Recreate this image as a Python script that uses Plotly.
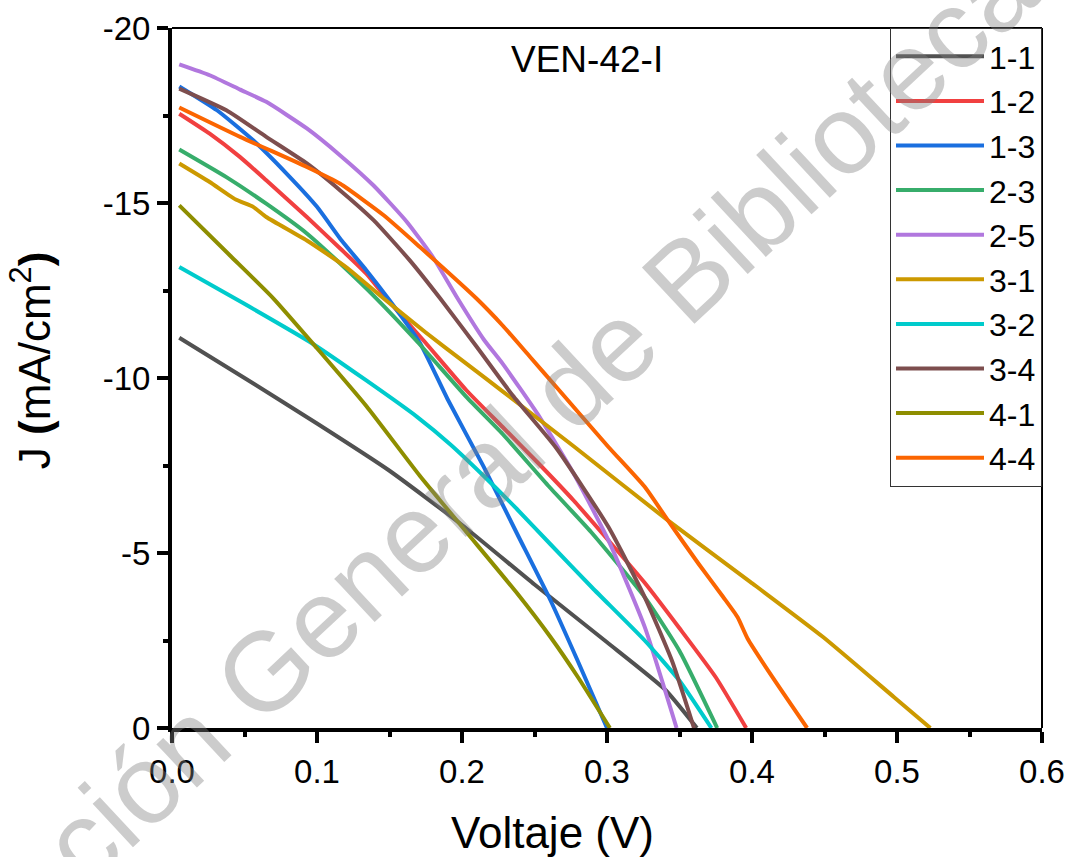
import plotly.graph_objects as go

# ---------------- data ----------------
names = ["1-1", "1-2", "1-3", "2-3", "2-5", "3-1", "3-2", "3-4", "4-1", "4-4"]
colors = ["#515151", "#F14040", "#1A6FDF", "#37AD6B", "#B177DE",
          "#CC9900", "#00CBCC", "#7D4E4E", "#8E8E00", "#FB6501"]

v_11 = [0.005, 0.05, 0.10, 0.15, 0.20, 0.25, 0.30, 0.34, 0.362]
j_11 = [-11.15, -10.0, -8.7, -7.35, -5.8, -4.1, -2.45, -1.1, 0]

v_12 = [0.005, 0.026, 0.047, 0.065, 0.093, 0.116, 0.134, 0.148, 0.175, 0.203,
        0.228, 0.253, 0.277, 0.301, 0.326, 0.350, 0.375, 0.396]
j_12 = [-17.55, -16.98, -16.31, -15.65, -14.6, -13.70, -12.98, -12.27, -11.0, -9.65,
        -8.6, -7.55, -6.5, -5.36, -4.15, -2.85, -1.45, 0]

v_13 = [0.005, 0.031, 0.056, 0.079, 0.10, 0.116, 0.134, 0.15, 0.171, 0.19,
        0.215, 0.238, 0.261, 0.28, 0.30]
j_13 = [-18.33, -17.65, -16.79, -15.84, -14.89, -13.98, -13.08, -12.22, -11.0, -9.4,
        -7.46, -5.55, -3.65, -1.9, 0]

v_23 = [0.005, 0.0375, 0.065, 0.093, 0.116, 0.141, 0.17, 0.203, 0.228, 0.26,
        0.289, 0.326, 0.35, 0.376]
j_23 = [-16.53, -15.74, -14.98, -14.13, -13.27, -12.27, -11.0, -9.46, -8.4, -6.9,
        -5.6, -3.74, -2.2, 0]

v_25 = [0.005, 0.026, 0.047, 0.065, 0.093, 0.116, 0.139, 0.162, 0.18, 0.197,
        0.215, 0.228, 0.252, 0.277, 0.301, 0.326, 0.348]
j_25 = [-18.96, -18.65, -18.24, -17.89, -17.13, -16.36, -15.50, -14.46, -13.45, -12.27,
        -11.1, -10.41, -8.98, -7.27, -5.36, -2.89, 0]

v_31 = [0.005, 0.026, 0.044, 0.056, 0.065, 0.093, 0.12, 0.146, 0.175, 0.203,
        0.228, 0.277, 0.342, 0.399, 0.449, 0.498, 0.523]
j_31 = [-16.13, -15.6, -15.1, -14.89, -14.6, -13.93, -13.17, -12.27, -11.3, -10.41,
        -9.62, -8.05, -5.93, -4.17, -2.6, -0.88, 0]

v_32 = [0.005, 0.049, 0.097, 0.134, 0.169, 0.192, 0.215, 0.238, 0.261,
        0.29, 0.326, 0.35, 0.372]
j_32 = [-13.17, -12.14, -10.98, -9.93, -8.89, -8.1, -7.2, -6.25, -5.25,
        -4.0, -2.5, -1.35, 0]

v_34 = [0.005, 0.0375, 0.065, 0.093, 0.116, 0.139, 0.164, 0.185, 0.21, 0.235,
        0.265, 0.301, 0.326, 0.345, 0.36]
j_34 = [-18.27, -17.65, -16.89, -16.13, -15.36, -14.51, -13.36, -12.27, -10.9, -9.5,
        -8.0, -5.74, -3.74, -1.9, 0]

v_41 = [0.005, 0.04, 0.07, 0.10, 0.134, 0.171, 0.203, 0.238, 0.261, 0.28, 0.302]
j_41 = [-14.93, -13.5, -12.27, -10.85, -9.2, -7.2, -5.6, -3.85, -2.6, -1.45, 0]

v_44 = [0.005, 0.047, 0.093, 0.116, 0.146, 0.171, 0.21, 0.228, 0.247, 0.267,
        0.301, 0.326, 0.342, 0.363, 0.38, 0.39, 0.397, 0.414, 0.438]
j_44 = [-17.73, -16.89, -16.03, -15.55, -14.65, -13.74, -12.27, -11.5, -10.6, -9.65,
        -8.03, -6.89, -5.93, -4.70, -3.75, -3.17, -2.55, -1.46, 0]

volts = [v_11, v_12, v_13, v_23, v_25, v_31, v_32, v_34, v_41, v_44]
currents = [j_11, j_12, j_13, j_23, j_25, j_31, j_32, j_34, j_41, j_44]

x_ticks = [0.0, 0.1, 0.2, 0.3, 0.4, 0.5, 0.6]
x_labels = ["0.0", "0.1", "0.2", "0.3", "0.4", "0.5", "0.6"]
y_ticks = [0, -5, -10, -15, -20]
y_labels = ["0", "-5", "-10", "-15", "-20"]

FONT = "Liberation Sans, Arial, sans-serif"

fig = go.Figure()
for name, col, v, j in zip(names, colors, volts, currents):
    fig.add_trace(go.Scatter(x=v, y=j, mode="lines", name=name,
                             line=dict(color=col, width=4, shape="spline", smoothing=0.5)))

axis_common = dict(
    showgrid=False, zeroline=False, showline=True, linecolor="black", linewidth=4,
    ticks="outside", ticklen=11, tickwidth=4, tickcolor="black", automargin=False,
    tickfont=dict(family=FONT, size=33, color="black"),
)

fig.update_xaxes(
    range=[0, 0.6], tickvals=x_ticks, ticktext=x_labels,
    minor=dict(ticks="outside", ticklen=5, tickwidth=4, dtick=0.05, tickcolor="black"),
    **axis_common,
)
fig.update_yaxes(
    range=[0, -20], tickvals=y_ticks, ticktext=y_labels,
    minor=dict(ticks="outside", ticklen=5, tickwidth=4, dtick=2.5, tickcolor="black"),
    **axis_common,
)

fig.update_layout(
    width=1072, height=857,
    margin=dict(l=172, r=30, t=28, b=129, autoexpand=False),
    paper_bgcolor="white", plot_bgcolor="white",
    font=dict(family=FONT, color="black"),
    legend=dict(x=1.0, y=1.0, xanchor="right", yanchor="top",
                bgcolor="white", bordercolor="#333333", borderwidth=1,
                font=dict(family=FONT, size=32, color="black"),
                itemwidth=88, tracegroupgap=0, maxheight=700),
    shapes=[
        dict(type="line", xref="paper", yref="paper", x0=0, x1=1, y0=1, y1=1,
             line=dict(color="black", width=2)),
        dict(type="line", xref="paper", yref="paper", x0=1, x1=1, y0=0, y1=1,
             line=dict(color="black", width=2)),
    ],
    annotations=[
        dict(text="VEN-42-I", xref="paper", yref="paper", x=0.4767, y=0.955,
             xanchor="center", yanchor="middle", showarrow=False,
             font=dict(family=FONT, size=37, color="black")),
        dict(text="Voltaje (V)", xref="paper", yref="paper", x=0.4376, y=-0.149,
             xanchor="center", yanchor="middle", showarrow=False,
             font=dict(family=FONT, size=44, color="black")),
        dict(text="J <b>(</b>mA/cm<sup>2</sup><b>)</b>", xref="paper", yref="paper",
             x=-0.1624, y=0.525, xanchor="center", yanchor="middle", textangle=-90,
             showarrow=False, font=dict(family=FONT, size=44, color="black")),
        dict(text="Dirección General de Bibliotecas", xref="paper", yref="paper",
             x=0.335, y=0.345, xanchor="center", yanchor="middle", textangle=-43,
             showarrow=False,
             font=dict(family=FONT, size=112, color="rgba(128,128,128,0.4)")),
    ],
)

fig.write_html("out.html")
